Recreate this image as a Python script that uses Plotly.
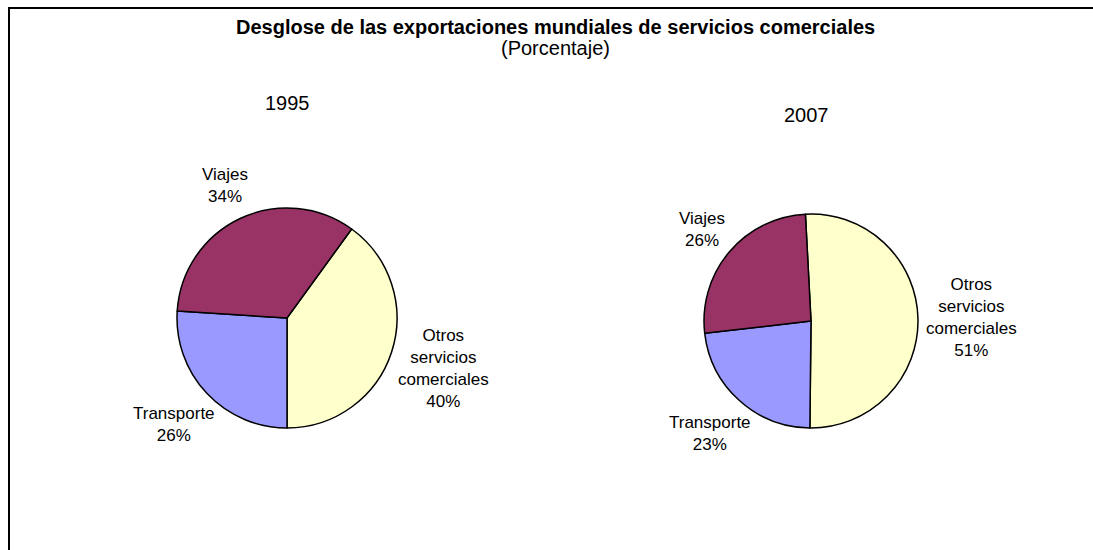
import math
import plotly.graph_objects as go

# Data
categories = ["Otros servicios comerciales", "Transporte", "Viajes"]
label_text = ["Otros<br>servicios<br>comerciales", "Transporte", "Viajes"]
shares_1995 = [40, 26, 34]
shares_2007 = [51, 23, 26]
slice_colors = ["#FFFFCC", "#9999FF", "#993366"]

W, H = 1093, 550
FONT = "Arial, Liberation Sans, sans-serif"

# label distance from pie centre, in pie radii
label_dist = [1.50, 1.41, 1.33]


def px_x(v):
    return v / W


def px_y(v):
    return 1 - v / H


fig = go.Figure()

pies = [
    # values, rotation, centre (px), radius (px), year, year position (px)
    (shares_1995, 36, (287, 318), 110, "1995", (287, 103)),
    (shares_2007, -3, (811, 321), 107, "2007", (806, 115)),
]

for values, rot, (cx, cy), r, year, (tx, ty) in pies:
    fig.add_trace(go.Pie(
        labels=categories,
        values=values,
        sort=False,
        direction="clockwise",
        rotation=rot,
        marker=dict(colors=slice_colors, line=dict(color="black", width=1.5)),
        textinfo="none",
        domain=dict(x=[px_x(cx - r), px_x(cx + r)], y=[px_y(cy + r), px_y(cy - r)]),
        showlegend=False,
        hoverinfo="label+percent",
    ))

    # outside labels placed along each slice's mid angle
    total = sum(values)
    start = rot
    for i, v in enumerate(values):
        span = v / total * 360
        mid = math.radians(start + span / 2)
        start += span
        d = r * label_dist[i]
        lx = cx + d * math.sin(mid)
        ly = cy - d * math.cos(mid)
        fig.add_annotation(
            x=px_x(lx), y=px_y(ly), xref="paper", yref="paper",
            xanchor="center", yanchor="middle", align="center",
            text=f"{label_text[i]}<br>{round(v / total * 100)}%",
            showarrow=False, font=dict(family=FONT, size=17, color="black"),
        )

    fig.add_annotation(x=px_x(tx), y=px_y(ty), xref="paper", yref="paper",
                       xanchor="center", yanchor="middle",
                       text=year, showarrow=False,
                       font=dict(family=FONT, size=20, color="black"))

# Titles
fig.add_annotation(x=px_x(555), y=px_y(27), xref="paper", yref="paper",
                   xanchor="center", yanchor="middle",
                   text="<b>Desglose de las exportaciones mundiales de servicios comerciales</b>",
                   showarrow=False, font=dict(family=FONT, size=20, color="black"))
fig.add_annotation(x=px_x(555), y=px_y(48), xref="paper", yref="paper",
                   xanchor="center", yanchor="middle",
                   text="(Porcentaje)", showarrow=False,
                   font=dict(family=FONT, size=20, color="black"))

# Frame (left and top edges)
fig.add_shape(type="path", xref="paper", yref="paper",
              path=f"M {px_x(9)},0 L {px_x(9)},{px_y(8)} L 1,{px_y(8)}",
              line=dict(color="black", width=2))

fig.update_layout(
    width=W, height=H,
    margin=dict(l=0, r=0, t=0, b=0),
    paper_bgcolor="white",
    plot_bgcolor="white",
    font=dict(family=FONT, color="black"),
)

fig.write_html("out.html", config={"displayModeBar": False},
               post_script="document.body.style.margin='0';")
